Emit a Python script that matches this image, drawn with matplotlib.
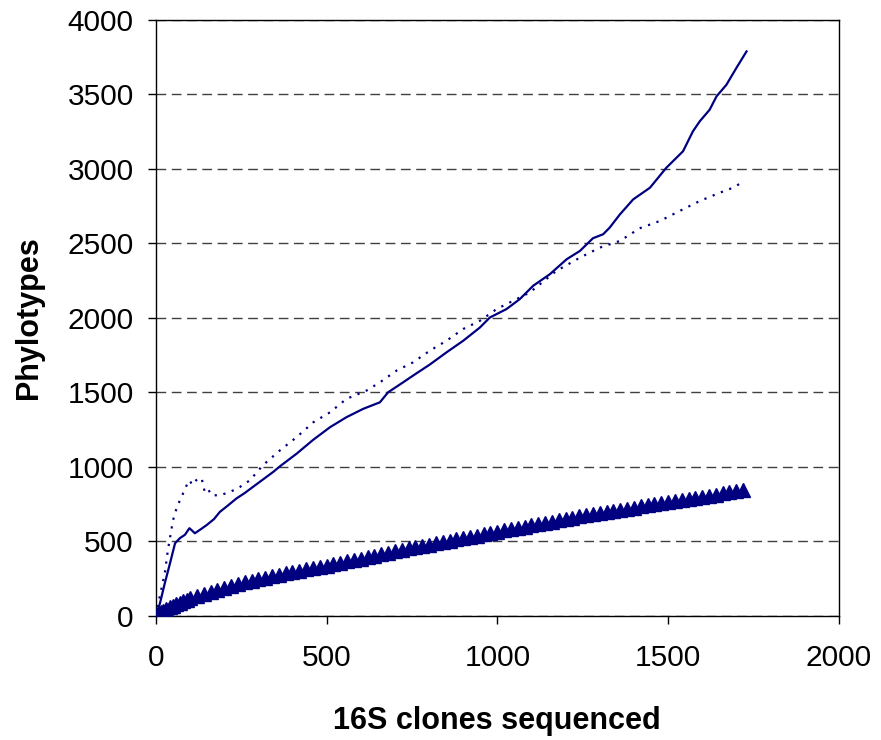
import matplotlib
matplotlib.use("Agg")
import matplotlib.pyplot as plt

plt.rcParams["font.family"] = ["Liberation Sans", "DejaVu Sans"]

navy = "#000080"

# solid curve
solid_x = [0, 12, 26, 41, 56, 70, 85, 98, 105, 114, 130, 148, 170, 187, 210, 236,
           260, 284, 310, 343, 363, 412, 461, 510, 558, 607, 656, 680, 724, 753,
           802, 851, 900, 949, 978, 1027, 1066, 1105, 1154, 1203, 1242, 1280,
           1310, 1329, 1359, 1398, 1447, 1495, 1544, 1573, 1593, 1622, 1642,
           1671, 1700, 1730]
solid_y = [0, 87, 220, 352, 488, 522, 545, 589, 575, 555, 580, 609, 650, 698, 740,
           789, 825, 866, 910, 966, 1004, 1089, 1183, 1267, 1334, 1390, 1434, 1501,
           1568, 1613, 1687, 1769, 1847, 1936, 2003, 2060, 2127, 2216, 2294, 2394,
           2450, 2535, 2562, 2606, 2695, 2796, 2874, 3008, 3119, 3253, 3320, 3398,
           3487, 3565, 3677, 3789]

# dotted curve
dotted_x = [0, 12, 26, 35, 50, 60, 70, 85, 94, 100, 105, 115, 125, 134, 143, 153,
            163, 187, 217, 246, 275, 313, 363, 412, 461, 510, 558, 617, 656, 705,
            753, 802, 851, 900, 949, 998, 1046, 1095, 1173, 1242, 1300, 1359, 1417,
            1476, 1534, 1593, 1651, 1690, 1720]
dotted_y = [0, 140, 287, 442, 642, 720, 776, 850, 899, 910, 880, 905, 925, 923, 832,
            850, 810, 810, 832, 866, 910, 1011, 1111, 1200, 1300, 1367, 1457, 1513,
            1568, 1647, 1702, 1780, 1847, 1926, 1981, 2060, 2115, 2171, 2316, 2405,
            2472, 2517, 2602, 2651, 2718, 2785, 2840, 2874, 2914]

# triangle series
tri_x = [2, 5, 10, 15, 20, 30, 40, 50, 60, 70, 80, 90, 100, 120, 140, 160, 180,
         200, 220, 240, 260, 280, 300, 320, 340, 360, 380, 400, 420, 440, 460, 480,
         500, 520, 540, 560, 580, 600, 620, 640, 660, 680, 700, 720, 740, 760, 780,
         800, 820, 840, 860, 880, 900, 920, 940, 960, 980, 1000, 1020, 1040, 1060,
         1080, 1100, 1120, 1140, 1160, 1180, 1200, 1220, 1240, 1260, 1280, 1300,
         1320, 1340, 1360, 1380, 1400, 1420, 1440, 1460, 1480, 1500, 1520, 1540,
         1560, 1580, 1600, 1620, 1640, 1660, 1680, 1700, 1720]
tri_y = [5, 10, 18, 25, 32, 45, 58, 70, 80, 90, 100, 109, 118, 132, 146, 159, 172,
         185, 199, 213, 226, 236, 246, 256, 266, 277, 287, 297, 305, 313, 321, 329,
         337, 347, 356, 366, 376, 385, 395, 405, 414, 424, 434, 443, 453, 462, 471,
         479, 488, 496, 505, 514, 522, 531, 539, 548, 556, 565, 574, 582, 591, 599,
         608, 616, 625, 634, 642, 651, 659, 668, 676, 683, 691, 698, 706, 713, 720,
         728, 735, 743, 750, 758, 765, 772, 779, 786, 793, 800, 808, 815, 822, 829,
         836, 843]

xticks = [0, 500, 1000, 1500, 2000]
yticks = [0, 500, 1000, 1500, 2000, 2500, 3000, 3500, 4000]

fig = plt.figure(figsize=(8.81, 7.40), dpi=100)
ax = fig.add_axes([0.177, 0.1676, 0.775, 0.8054])

ax.plot(tri_x, tri_y, linestyle="none", marker="^", markersize=9.5,
        color=navy, markeredgecolor=navy, zorder=3)
ax.plot(dotted_x, dotted_y, color=navy, linewidth=1.6, linestyle=(0, (1, 3)),
        zorder=4)
ax.plot(solid_x, solid_y, color=navy, linewidth=1.6, zorder=5)

ax.set_xlim(0, 2000)
ax.set_ylim(0, 4000)
ax.set_xticks(xticks)
ax.set_yticks(yticks)
ax.yaxis.grid(True, linestyle=(0, (7, 4)), color="#404040", linewidth=1)
ax.set_axisbelow(True)

for s in ax.spines.values():
    s.set_color("black")
    s.set_linewidth(1)

ax.tick_params(axis="x", direction="out", length=6, width=1, pad=14,
               labelsize=21.5)
ax.tick_params(axis="y", direction="out", length=6, width=1, pad=10,
               labelsize=21.5)

ax.set_xlabel("16S clones sequenced", fontsize=22, fontweight="bold",
              labelpad=25)
ax.set_ylabel("Phylotypes", fontsize=22, fontweight="bold", labelpad=17)

fig.savefig("out.png", dpi=100)
